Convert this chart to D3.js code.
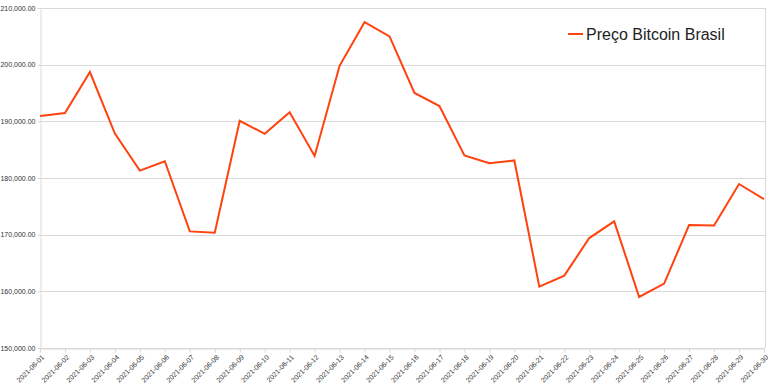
<!DOCTYPE html>
<html><head><meta charset="utf-8">
<script src="https://cdn.jsdelivr.net/npm/d3@7"></script>
<style>body{margin:0;background:#fff}svg{display:block}</style>
</head><body>
<svg id="c" width="768" height="391"></svg>
<script>
const dates = ["2021-06-01","2021-06-02","2021-06-03","2021-06-04","2021-06-05","2021-06-06","2021-06-07","2021-06-08","2021-06-09","2021-06-10","2021-06-11","2021-06-12","2021-06-13","2021-06-14","2021-06-15","2021-06-16","2021-06-17","2021-06-18","2021-06-19","2021-06-20","2021-06-21","2021-06-22","2021-06-23","2021-06-24","2021-06-25","2021-06-26","2021-06-27","2021-06-28","2021-06-29","2021-06-30"];
const prices = [190935,191470,198700,187830,181300,182950,170580,170350,190100,187800,191600,183900,199800,207500,205000,195000,192700,184000,182600,183100,160830,162770,169400,172350,159000,161360,171700,171600,178940,176270];
const yTicks = [150000,160000,170000,180000,190000,200000,210000];
const seriesName = "Preço Bitcoin Brasil";

const svg = d3.select("#c");
const L = 40, R = 764, T = 8, B = 348;
const x = d3.scalePoint().domain(dates).range([L, R]);
const y = d3.scaleLinear().domain([150000, 210000]).range([B, T]);
const fmt = d3.format(",.2f");

// gridlines
svg.append("g").selectAll("line").data(yTicks).join("line")
  .attr("x1", L).attr("x2", R + 1)
  .attr("y1", d => Math.round(y(d)) + 0.5).attr("y2", d => Math.round(y(d)) + 0.5)
  .attr("stroke", "#d9d9d9").attr("stroke-width", 1);
// right border
svg.append("line").attr("x1", R + 1.5).attr("x2", R + 1.5).attr("y1", T).attr("y2", B)
  .attr("stroke", "#d9d9d9");

// y axis
const ya = svg.append("g").attr("transform", `translate(${L + 0.5},0)`)
  .call(d3.axisLeft(y).tickValues(yTicks).tickFormat(fmt).tickSize(3).tickPadding(2));
ya.select(".domain").attr("stroke", "#d9d9d9");
ya.selectAll(".tick line").attr("stroke", "#d9d9d9");
ya.selectAll("text").attr("font-family", "Liberation Sans, Arial, sans-serif").attr("font-size", 7).attr("fill", "#333");

// x axis
const xa = svg.append("g").attr("transform", `translate(0,${B + 0.5})`)
  .call(d3.axisBottom(x).tickSize(4).tickPadding(2));
xa.select(".domain").attr("stroke", "#d9d9d9");
xa.selectAll(".tick line").attr("stroke", "#d9d9d9");
xa.selectAll("text").attr("font-family", "Liberation Sans, Arial, sans-serif").attr("font-size", 7).attr("fill", "#333")
  .attr("text-anchor", "end").attr("dy", 0).attr("transform", "translate(0,5) rotate(-45)");

// line
svg.append("path").datum(prices)
  .attr("fill", "none").attr("stroke", "#ff420e").attr("stroke-width", 2).attr("stroke-linejoin", "miter")
  .attr("d", d3.line().x((d, i) => x(dates[i])).y(d => y(d)));

// legend
const lg = svg.append("g");
lg.append("line").attr("x1", 568).attr("x2", 583).attr("y1", 34).attr("y2", 34)
  .attr("stroke", "#ff420e").attr("stroke-width", 2);
lg.append("text").attr("x", 586).attr("y", 39.5).text(seriesName)
  .attr("font-family", "Liberation Sans, Arial, sans-serif").attr("font-size", 16).attr("fill", "#222");
</script>
</body></html>
